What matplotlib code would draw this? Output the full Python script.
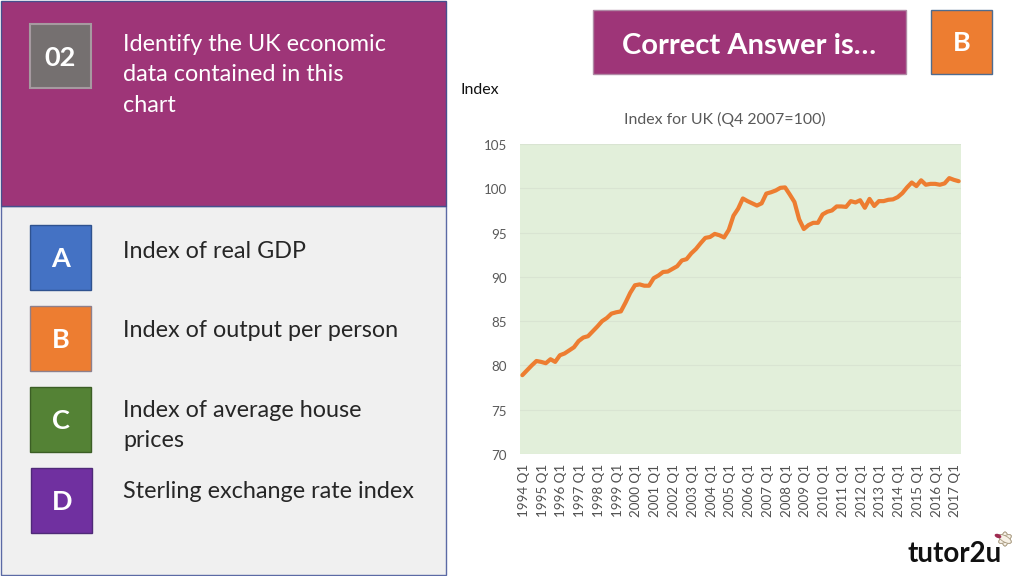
import matplotlib
matplotlib.use("Agg")
import matplotlib.pyplot as plt
from matplotlib.patches import Rectangle, Ellipse
from matplotlib.transforms import ScaledTranslation

plt.rcParams['font.family'] = ['Lato', 'DejaVu Sans']

# 1994 Q1 to 2017 Q2, quarterly
index_values = [
    78.9, 79.45, 80.0, 80.5, 80.4, 80.25, 80.7, 80.4, 81.15, 81.35,
    81.7, 82.05, 82.75, 83.15, 83.3, 83.85, 84.4, 85.0, 85.35, 85.85,
    86.0, 86.1, 87.1, 88.2, 89.05, 89.15, 89.0, 89.0, 89.85, 90.15,
    90.55, 90.6, 90.9, 91.2, 91.85, 92.0, 92.65, 93.15, 93.8, 94.4,
    94.5, 94.85, 94.7, 94.45, 95.3, 96.9, 97.7, 98.85, 98.55, 98.3,
    98.05, 98.3, 99.4, 99.55, 99.75, 100.05, 100.1, 99.3, 98.45, 96.5,
    95.4, 95.85, 96.1, 96.1, 97.05, 97.35, 97.5, 97.95, 97.95, 97.9,
    98.55, 98.4, 98.65, 97.8, 98.8, 98.0, 98.55, 98.55, 98.7, 98.75,
    99.0, 99.45, 100.1, 100.65, 100.25, 100.9, 100.4, 100.5, 100.5, 100.4,
    100.55, 101.15, 100.95, 100.8,
]
tick_labels = [f"{year} Q1" for year in range(1994, 2018)]
y_ticks = [70, 75, 80, 85, 90, 95, 100, 105]

options = ["Index of real GDP", "Index of output per person",
           "Index of average house\nprices", "Sterling exchange rate index"]
option_letters = ["A", "B", "C", "D"]
option_colors = ["#4472C4", "#ED7D31", "#548235", "#7030A0"]
option_edges = ["#2F528F", "#8E7F8A", "#3B5E25", "#4F2A78"]

W, H = 1024, 576
PURPLE = "#9E3578"

fig = plt.figure(figsize=(W / 100, H / 100), dpi=100)

# whole slide in pixels, y going down
bg = fig.add_axes([0, 0, 1, 1])
bg.set_xlim(0, W)
bg.set_ylim(H, 0)
bg.axis("off")


def box(x0, y0, x1, y1, color, edge, lw=1.0):
    bg.add_patch(Rectangle((x0, y0), x1 - x0, y1 - y0, facecolor=color, edgecolor=edge, linewidth=lw))


# left panels
box(0.5, 206, 445.5, 575, "#F0F0F0", "#5B6AA5")
box(0.5, 0.5, 445.5, 206, PURPLE, "#46508E")

box(30, 24, 91, 88, "#757070", "#A69AA0", 1.5)
bg.text(60.5, 58, "02", color="white", fontsize=19.5, fontweight="bold", ha="center", va="center")

bg.text(123, 44.5, "Identify the UK economic", color="white", fontsize=16.8, ha="left", va="center")
bg.text(123, 74.5, "data contained in this", color="white", fontsize=16.8, ha="left", va="center")
bg.text(123, 105.5, "chart", color="white", fontsize=16.8, ha="left", va="center")

# answer options
box_tops = [225, 306, 387, 468]
text_ys = [252, 330.5, 425.5, 491]
for i in range(4):
    x0 = 30 if i < 3 else 31
    box(x0, box_tops[i], x0 + 61, box_tops[i] + 65, option_colors[i], option_edges[i])
    bg.text(x0 + 31, box_tops[i] + 34, option_letters[i], color="white", fontsize=19.5,
            fontweight="bold", ha="center", va="center")
    bg.text(123, text_ys[i], options[i], color="#262626", fontsize=16.8, ha="left", va="center",
            linespacing=1.5)

# top right boxes
box(592.5, 10, 906, 74, PURPLE, "#B08AA5")
bg.text(749, 45.5, "Correct Answer is…", color="white", fontsize=21, fontweight="bold", ha="center", va="center")
box(931, 10, 992, 74, "#ED7D31", "#4F6C8F")
bg.text(961.5, 43, "B", color="white", fontsize=19.5, fontweight="bold", ha="center", va="center")

# chart labels
bg.text(461, 90, "Index", color="#111111", fontsize=11.5, ha="left", va="center")
bg.text(725, 119, "Index for UK (Q4 2007=100)", color="#595959", fontsize=11.4, ha="center", va="center")

# logo
bg.text(955, 554, "tutor2u", color="#111111", fontsize=20, fontweight="bold", ha="center", va="center")
for angle in range(0, 360, 60):
    bg.add_patch(Ellipse((1005, 539), 6, 14, angle=angle, facecolor="#F7F1E6", edgecolor="#A89A80", linewidth=0.6))
bg.add_patch(Ellipse((998, 536), 7, 4, angle=20, facecolor="#9E2A50", edgecolor="none"))

# the chart itself
ax = fig.add_axes([520 / W, 1 - 454 / H, (961 - 520) / W, (454 - 144) / H])
ax.set_facecolor("#E2EFDA")
x = list(range(len(index_values)))
ax.plot(x, index_values, color="#ED7D31", linewidth=3, solid_capstyle="round", solid_joinstyle="round")
ax.set_xlim(-0.5, len(index_values) - 0.5)
ax.set_ylim(70, 105)
ax.set_yticks(y_ticks)
ax.set_xticks(x[::4])
ax.set_xticklabels(tick_labels, rotation=90, fontsize=9.6, color="#505050")
ax.tick_params(axis="y", length=0, labelsize=9.6, labelcolor="#595959", pad=9.5)
ax.tick_params(axis="x", length=0, pad=7)
ax.grid(axis="y", color="#D9E4D2", linewidth=0.8)
ax.set_axisbelow(True)
for side in ax.spines:
    ax.spines[side].set_visible(False)

# nudge the labels to where they sit on the slide
shift_x = ScaledTranslation(1.5 / 100, 0, fig.dpi_scale_trans)
for label in ax.get_xticklabels():
    label.set_transform(label.get_transform() + shift_x)
shift_y = ScaledTranslation(0, -1 / 100, fig.dpi_scale_trans)
for label in ax.get_yticklabels():
    label.set_transform(label.get_transform() + shift_y)

fig.savefig("out.png", dpi=100)
